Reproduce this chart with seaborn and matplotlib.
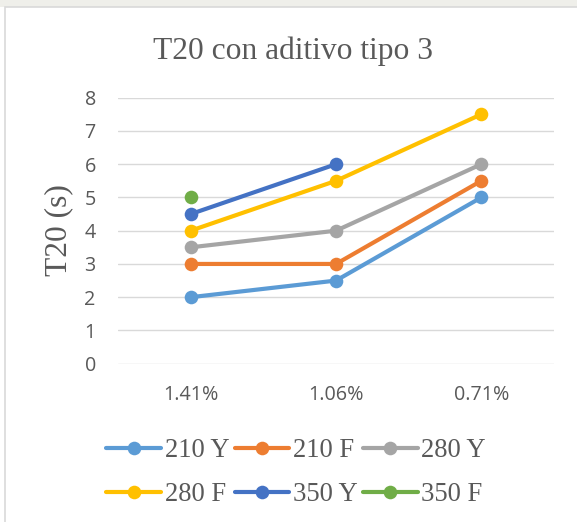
import numpy as np
import pandas as pd
import matplotlib
matplotlib.use("Agg")
import matplotlib.pyplot as plt
from matplotlib.lines import Line2D
from matplotlib.patches import Rectangle
import seaborn as sns

categories = ["1.41%", "1.06%", "0.71%"]
series_names = ["210 Y", "210 F", "280 Y", "280 F", "350 Y", "350 F"]
s210Y = [2.0, 2.5, 5.0]
s210F = [3.0, 3.0, 5.5]
s280Y = [3.5, 4.0, 6.0]
s280F = [4.0, 5.5, 7.5]
s350Y = [4.5, 6.0, np.nan]
s350F = [5.0, np.nan, np.nan]
colors = ["#5B9BD5", "#ED7D31", "#A5A5A5", "#FFC000", "#4472C4", "#70AD47"]
yticks = [0, 1, 2, 3, 4, 5, 6, 7, 8]

values = [s210Y, s210F, s280Y, s280F, s350Y, s350F]
rows = []
for name, vals in zip(series_names, values):
    for c, v in zip(categories, vals):
        rows.append({"cat": c, "serie": name, "val": v})
df = pd.DataFrame(rows).dropna()

sns.set_style("white")
W, H = 577, 522
fig = plt.figure(figsize=(W / 100, H / 100), dpi=100)
fig.patch.set_facecolor("white")

# top strip + border
fig.add_artist(Rectangle((0, 1 - 7 / H), 1, 7 / H, transform=fig.transFigure,
                         facecolor="#EFEFEA", edgecolor="none", zorder=0))
fig.add_artist(Rectangle((5 / W, -0.05), 1.1, 1.05 - 7 / H, transform=fig.transFigure,
                         facecolor="none", edgecolor="#D9D9D9", linewidth=1.2, zorder=1))

ax = fig.add_axes([118 / W, 1 - 363.7 / H, 436 / W, 266 / H])
ax.set_facecolor("none")

palette = dict(zip(series_names, colors))
sns.lineplot(data=df, x="cat", y="val", hue="serie", hue_order=series_names,
             palette=palette, marker="o", markersize=9.8, markeredgewidth=0,
             linewidth=3.0, sort=False, legend=False, ax=ax, zorder=3)

ax.set_xlim(-0.5, 2.5)
ax.set_ylim(0, 8)
ax.set_yticks(yticks)
ax.set_yticklabels([str(t) for t in yticks])
ax.set_xticks(range(len(categories)))
ax.set_xticklabels(categories)
ax.grid(axis="y", color="#D9D9D9", linewidth=1.0)
ax.grid(axis="x", visible=False)
for s in ax.spines.values():
    s.set_visible(False)
ax.tick_params(axis="both", length=0, labelsize=14.2, labelcolor="#595959")
ax.tick_params(axis="y", pad=16)
ax.tick_params(axis="x", pad=15)
for lab in ax.get_xticklabels() + ax.get_yticklabels():
    lab.set_family("Open Sans")
ax.set_xlabel("")
ax.set_ylabel("")

fig.text(293 / W, 1 - 59 / H, "T20 con aditivo tipo 3", ha="center", va="baseline",
         fontsize=22.7, family="Liberation Serif", color="#595959")
fig.text(59 / W, 1 - 230 / H, "T20 (s)", ha="center", va="center", rotation=90,
         fontsize=22.7, family="Liberation Serif", color="#595959")

# legend filled row by row (matplotlib fills column-wise, so reorder)
order = [0, 3, 1, 4, 2, 5]
handles = [Line2D([0], [0], color=colors[i], linewidth=3.0, marker="o", markersize=9.8,
                  markeredgewidth=0) for i in order]
labels = [series_names[i] for i in order]
leg = fig.legend(handles, labels, ncol=3, loc="center",
                 bbox_to_anchor=(296 / W, 1 - 472.5 / H), frameon=False,
                 prop={"family": "Liberation Serif", "size": 19.2},
                 handlelength=2.06, handletextpad=0.12, columnspacing=0.2,
                 labelspacing=0.72, borderpad=0)
for t in leg.get_texts():
    t.set_color("#595959")

fig.savefig("out.png", dpi=100)
